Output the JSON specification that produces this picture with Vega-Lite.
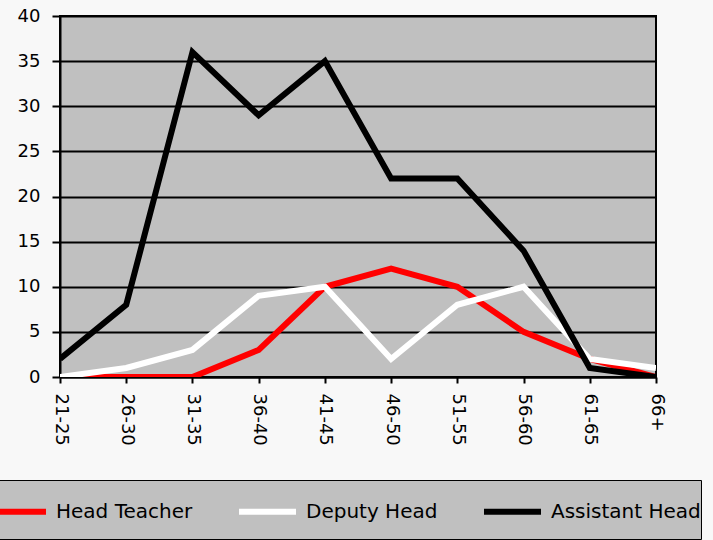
{
  "$schema": "https://vega.github.io/schema/vega-lite/v6.json",
  "width": 596,
  "height": 361,
  "autosize": "none",
  "padding": {"left": 60, "top": 16, "right": 57, "bottom": 163},
  "background": "#f8f8f8",
  "config": {
    "view": {"fill": "#c0c0c0", "stroke": "black", "strokeWidth": 2},
    "axis": {"labelFont": "DejaVu Sans", "labelColor": "black", "labelFontSize": 18, "tickColor": "black", "tickWidth": 2, "domainColor": "black", "domainWidth": 2, "gridColor": "black", "gridWidth": 2, "gridOpacity": 1}
  },
  "data": {"values": [
    {"age": "21-25", "role": "Head Teacher", "count": 0},
    {"age": "26-30", "role": "Head Teacher", "count": 0},
    {"age": "31-35", "role": "Head Teacher", "count": 0},
    {"age": "36-40", "role": "Head Teacher", "count": 3},
    {"age": "41-45", "role": "Head Teacher", "count": 10},
    {"age": "46-50", "role": "Head Teacher", "count": 12},
    {"age": "51-55", "role": "Head Teacher", "count": 10},
    {"age": "56-60", "role": "Head Teacher", "count": 5},
    {"age": "61-65", "role": "Head Teacher", "count": 2},
    {"age": "66+", "role": "Head Teacher", "count": 0},
    {"age": "21-25", "role": "Deputy Head", "count": 0},
    {"age": "26-30", "role": "Deputy Head", "count": 1},
    {"age": "31-35", "role": "Deputy Head", "count": 3},
    {"age": "36-40", "role": "Deputy Head", "count": 9},
    {"age": "41-45", "role": "Deputy Head", "count": 10},
    {"age": "46-50", "role": "Deputy Head", "count": 2},
    {"age": "51-55", "role": "Deputy Head", "count": 8},
    {"age": "56-60", "role": "Deputy Head", "count": 10},
    {"age": "61-65", "role": "Deputy Head", "count": 2},
    {"age": "66+", "role": "Deputy Head", "count": 1},
    {"age": "21-25", "role": "Assistant Head", "count": 2},
    {"age": "26-30", "role": "Assistant Head", "count": 8},
    {"age": "31-35", "role": "Assistant Head", "count": 36},
    {"age": "36-40", "role": "Assistant Head", "count": 29},
    {"age": "41-45", "role": "Assistant Head", "count": 35},
    {"age": "46-50", "role": "Assistant Head", "count": 22},
    {"age": "51-55", "role": "Assistant Head", "count": 22},
    {"age": "56-60", "role": "Assistant Head", "count": 14},
    {"age": "61-65", "role": "Assistant Head", "count": 1},
    {"age": "66+", "role": "Assistant Head", "count": 0}
  ]},
  "mark": {"type": "line", "strokeWidth": 6, "strokeJoin": "miter", "clip": true},
  "encoding": {
    "x": {"field": "age", "type": "ordinal", "sort": null, "title": null,
      "scale": {"type": "point", "padding": 0},
      "axis": {"labelAngle": 90, "tickSize": 6, "labelPadding": 10, "grid": false, "labelAlign": "left", "labelBaseline": "middle"}},
    "y": {"field": "count", "type": "quantitative", "title": null,
      "scale": {"domain": [0, 40], "nice": false},
      "axis": {"values": [0, 5, 10, 15, 20, 25, 30, 35, 40], "tickSize": 8, "labelPadding": 12, "grid": true}},
    "color": {"field": "role", "type": "nominal", "sort": ["Head Teacher", "Deputy Head", "Assistant Head"],
      "scale": {"domain": ["Head Teacher", "Deputy Head", "Assistant Head"], "range": ["#ff0000", "#ffffff", "#000000"]},
      "legend": {"title": " ", "titleOrient": "bottom", "titleFontSize": 10, "titlePadding": 5,
        "orient": "none", "legendX": -74, "legendY": 464, "direction": "horizontal", "columns": 3,
        "symbolType": "stroke", "symbolSize": 3249, "symbolStrokeWidth": 6, "labelFont": "DejaVu Sans", "labelFontSize": 20,
        "labelColor": "black", "labelOffset": 7, "columnPadding": 34, "fillColor": "#c0c0c0", "strokeColor": "black",
        "padding": 0, "labelLimit": 300}
    },
    "order": {"field": "role"}
  }
}
